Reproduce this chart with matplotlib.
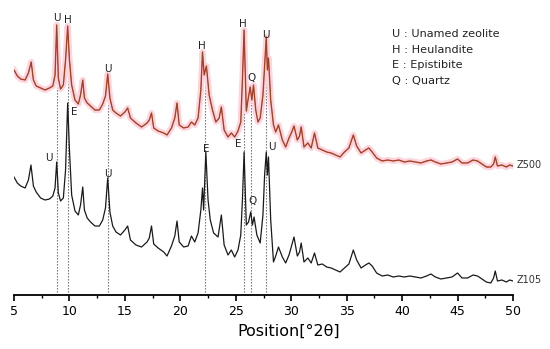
# XRD patterns Z105 / Z500
import numpy as np
import matplotlib
matplotlib.use('Agg')
import matplotlib.pyplot as plt
from matplotlib.ticker import MultipleLocator

plt.rcParams['font.family'] = ['DejaVu Sans']

# Z105 (black) - 2theta and relative intensity
two_theta_z105 = [5.0, 5.3, 5.6, 6.0, 6.3, 6.53, 6.75, 7.0, 7.4, 7.8, 8.2, 8.5, 8.7, 8.85, 9.0, 9.2,
                  9.45, 9.65, 9.84, 10.0, 10.2, 10.5, 10.8, 11.0, 11.2, 11.35, 11.6, 11.9, 12.3, 12.7,
                  13.0, 13.25, 13.45, 13.65, 13.9, 14.2, 14.6, 15.0, 15.25, 15.5, 16.0, 16.5, 17.0,
                  17.2, 17.4, 17.6, 18.0, 18.5, 18.8, 19.2, 19.5, 19.7, 19.9, 20.3, 20.7, 21.0, 21.3,
                  21.6, 21.85, 22.0, 22.1, 22.3, 22.5, 22.7, 23.0, 23.4, 23.7, 23.95, 24.3, 24.6, 24.9,
                  25.2, 25.45, 25.6, 25.75, 25.95, 26.15, 26.35, 26.5, 26.65, 26.9, 27.2, 27.45, 27.6,
                  27.75, 27.85, 27.95, 28.15, 28.4, 28.6, 28.85, 29.2, 29.5, 29.8, 30.05, 30.25, 30.55,
                  30.75, 30.9, 31.15, 31.5, 31.8, 32.1, 32.4, 32.8, 33.2, 33.6, 34.0, 34.4, 34.8, 35.2,
                  35.6, 35.9, 36.3, 36.7, 37.0, 37.3, 37.7, 38.2, 38.7, 39.2, 39.7, 40.2, 40.7, 41.2,
                  41.7, 42.2, 42.6, 43.0, 43.5, 44.0, 44.5, 45.0, 45.4, 45.9, 46.4, 46.8, 47.2, 47.6,
                  48.0, 48.25, 48.4, 48.6, 49.0, 49.4, 49.7, 50.0]
intensity_z105 = [118, 112, 109, 107, 115, 130, 109, 103, 97, 95, 96, 99, 107, 133, 102, 94,
                  97, 125, 192, 145, 100, 84, 80, 90, 108, 85, 77, 73, 69, 69,
                  75, 87, 117, 83, 69, 63, 60, 65, 69, 55, 50, 48, 53,
                  57, 69, 51, 47, 43, 39, 49, 59, 74, 53, 48, 49, 59, 53,
                  62, 85, 107, 85, 143, 95, 75, 62, 58, 80, 50, 40, 45, 38,
                  45, 60, 95, 143, 70, 73, 83, 70, 78, 60, 52, 80, 120,
                  143, 120, 138, 75, 33, 39, 48, 38, 32, 40, 50, 58, 39,
                  43, 52, 33, 37, 32, 42, 30, 31, 28, 27, 25, 23, 27, 31,
                  45, 35, 27, 30, 32, 29, 22, 19, 20, 18, 19, 18, 19, 18,
                  17, 19, 21, 18, 16, 17, 18, 22, 17, 17, 20, 19, 16, 13,
                  12, 17, 24, 14, 15, 13, 15, 14]

# Z500 (red)
two_theta_z500 = [5.0, 5.3, 5.6, 6.0, 6.3, 6.55, 6.75, 7.0, 7.4, 7.8, 8.2, 8.5, 8.7, 8.85, 9.0, 9.2,
                  9.45, 9.65, 9.84, 10.0, 10.2, 10.5, 10.8, 11.0, 11.2, 11.35, 11.6, 11.9, 12.3, 12.7,
                  13.0, 13.25, 13.45, 13.65, 13.9, 14.2, 14.6, 15.0, 15.25, 15.5, 16.0, 16.5, 17.0,
                  17.2, 17.4, 17.6, 18.0, 18.5, 18.8, 19.2, 19.5, 19.7, 19.9, 20.3, 20.7, 21.0, 21.3,
                  21.6, 21.85, 22.0, 22.15, 22.35, 22.6, 22.9, 23.2, 23.5, 23.7, 23.95, 24.3, 24.6, 24.9,
                  25.2, 25.45, 25.6, 25.75, 25.95, 26.1, 26.3, 26.45, 26.6, 26.8, 27.0, 27.2, 27.45,
                  27.6, 27.75, 27.85, 27.95, 28.15, 28.4, 28.6, 28.85, 29.2, 29.5, 29.8, 30.05, 30.25,
                  30.55, 30.75, 30.9, 31.15, 31.5, 31.8, 32.1, 32.4, 32.8, 33.2, 33.6, 34.0, 34.4, 34.8,
                  35.2, 35.6, 35.9, 36.3, 36.7, 37.0, 37.3, 37.7, 38.2, 38.7, 39.2, 39.7, 40.2, 40.7,
                  41.2, 41.7, 42.2, 42.6, 43.0, 43.5, 44.0, 44.5, 45.0, 45.4, 45.9, 46.4, 46.8, 47.2,
                  47.6, 48.0, 48.25, 48.4, 48.6, 49.0, 49.4, 49.7, 50.0]
intensity_z500 = [225, 219, 216, 215, 222, 233, 215, 209, 207, 205, 207, 209, 220, 270, 217, 206,
                  210, 235, 269, 235, 210, 195, 191, 200, 215, 197, 192, 189, 185, 185,
                  191, 199, 221, 197, 185, 182, 179, 183, 187, 177, 172, 168, 172,
                  175, 182, 167, 164, 162, 160, 167, 177, 192, 170, 167, 168, 173, 170,
                  177, 205, 243, 220, 229, 200, 185, 173, 177, 188, 165, 158, 162, 158,
                  164, 173, 215, 265, 184, 195, 208, 195, 210, 185, 173, 177, 200,
                  230, 258, 225, 237, 195, 170, 163, 170, 155, 148, 157, 163, 169,
                  155, 159, 168, 148, 152, 147, 162, 147, 145, 143, 142, 140, 138, 143,
                  147, 160, 149, 142, 145, 147, 143, 137, 134, 135, 134, 135, 133, 134,
                  133, 132, 134, 135, 133, 131, 132, 133, 136, 132, 132, 135, 134, 131,
                  128, 128, 131, 138, 129, 130, 128, 130, 129]

# reference peak positions (dotted lines)
ref_peaks = [8.85, 9.84, 13.45, 22.2, 25.77, 26.35, 27.76]

# phase letters: (label, 2theta, height)
labels_z500 = [('U', 8.88, 277), ('H', 9.87, 275), ('U', 13.45, 226), ('H', 21.95, 249),
               ('H', 25.65, 271), ('Q', 26.4, 217), ('U', 27.72, 260)]
labels_z105 = [('U', 8.16, 137), ('E', 10.41, 183), ('U', 13.43, 121), ('E', 22.31, 146),
               ('E', 25.2, 151), ('Q', 26.53, 94), ('U', 28.27, 148)]

legend_lines = ['U : Unamed zeolite', 'H : Heulandite', 'E : Epistibite', 'Q : Quartz']

fig = plt.figure(figsize=(5.5, 3.49), dpi=100)
ax = fig.add_axes([14 / 550, 54 / 349, 499 / 550, 295 / 349])

# dotted guide lines from the axis up to the Z500 peaks
tops = np.interp(ref_peaks, two_theta_z500, intensity_z500)
ax.vlines(ref_peaks, 0, tops, colors='#666666', linestyles=(0, (1.2, 1.5)), linewidth=0.8, zorder=1)

# Z500 with pink halo
ax.plot(two_theta_z500, intensity_z500, color='#fcd6de', linewidth=4.5, solid_joinstyle='round', zorder=2)
ax.plot(two_theta_z500, intensity_z500, color='#cc3a2a', linewidth=1.0, zorder=3)
ax.plot(two_theta_z500, intensity_z500, color='#4d5a1e', linewidth=0.4, alpha=0.6, zorder=4)

ax.plot(two_theta_z105, intensity_z105, color='#1a1a1a', linewidth=0.9, zorder=3)

for lab, xx, yy in labels_z500 + labels_z105:
    ax.text(xx, yy, lab, fontsize=7.5, ha='center', va='center', color='#222222', zorder=5)

for i, line in enumerate(legend_lines):
    ax.text(39.13, 261 - i * 15.7, line, fontsize=8.1, ha='left', va='center', color='#222222')

ax.text(50.33, 130, 'Z500', fontsize=7, ha='left', va='center', color='#333333', clip_on=False)
ax.text(50.33, 15, 'Z105', fontsize=7, ha='left', va='center', color='#333333', clip_on=False)

ax.set_xlim(5, 50)
ax.set_ylim(0, 295)
for s in ['top', 'right', 'left']:
    ax.spines[s].set_visible(False)
ax.spines['bottom'].set_linewidth(1.3)
ax.set_yticks([])
ax.xaxis.set_major_locator(MultipleLocator(5))
ax.xaxis.set_minor_locator(MultipleLocator(2.5))
ax.tick_params(axis='x', which='major', length=4, width=1.2, labelsize=9, pad=3.5)
ax.tick_params(axis='x', which='minor', length=2.5, width=1.0)
fig.text(289 / 550, 1 - 331 / 349, 'Position[°2θ]', fontsize=11.5, ha='center', va='center')

fig.savefig('out.png', dpi=100)
